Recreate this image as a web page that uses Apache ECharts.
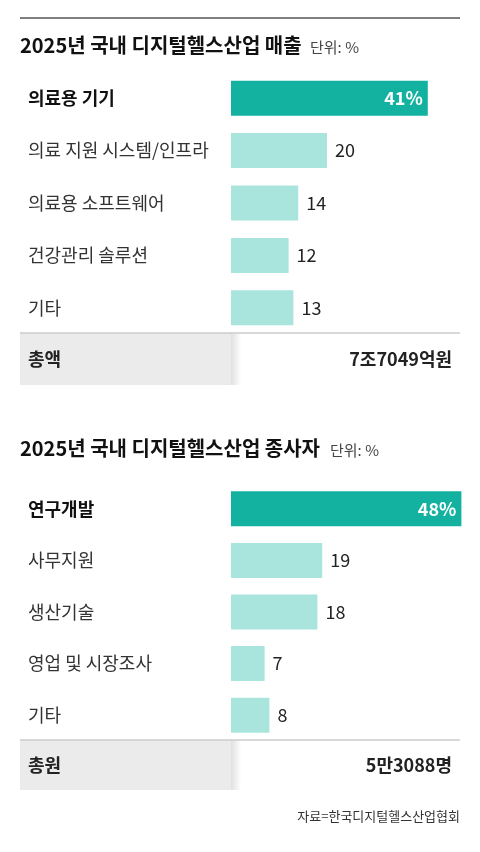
<!DOCTYPE html>
<html><head><meta charset="utf-8">
<script src="https://cdn.jsdelivr.net/npm/echarts@6/dist/echarts.min.js"></script>
<style>html,body{margin:0;background:#fff}#c{width:480px;height:852px}</style></head>
<body><div id="c"></div>
<script>
const cats1 = ['의료용 기기','의료 지원 시스템/인프라','의료용 소프트웨어','건강관리 솔루션','기타'];
const vals1 = [41,20,14,12,13];
const cats2 = ['연구개발','사무지원','생산기술','영업 및 시장조사','기타'];
const vals2 = [48,19,18,7,8];
const titles = ['2025년 국내 디지털헬스산업 매출','2025년 국내 디지털헬스산업 종사자'];
const totals = [['총액','7조7049억원'],['총원','5만3088명']];
const source = '자료=한국디지털헬스산업협회';
const F = '"Noto Sans CJK KR", "Noto Sans", sans-serif';
const DARK='#13b2a0', LIGHT='#a9e5dc';
const chart = echarts.init(document.getElementById('c'));
function series(vals, i){
  return {type:'bar', xAxisIndex:i, yAxisIndex:i, barWidth:35, animation:false,
    data: vals.map((v,k)=>({value:v,
      itemStyle:{color:k===0?DARK:LIGHT},
      label:k===0?{show:true,position:'insideRight',formatter:v+'%',color:'#fff',fontWeight:'bold',fontSize:18,fontFamily:F,distance:5}
               :{show:true,position:'right',color:'#222',fontSize:18,fontFamily:F,distance:8}}))};
}
function yAx(cats,i){
  return {type:'category',gridIndex:i,data:cats,inverse:true,axisLine:{show:false},axisTick:{show:false},
    axisLabel:{align:'left',margin:203,fontSize:18,fontFamily:F,color:'#333',
      formatter:(v)=>v===cats[0]?'{b|'+v+'}':v,rich:{b:{fontWeight:'bold',fontSize:18,fontFamily:F,color:'#111'}}}};
}
function xAx(i){return {type:'value',gridIndex:i,min:0,max:50,show:false};}
const g=[];
function line(y,color,w){g.push({type:'line',shape:{x1:20,y1:y,x2:460,y2:y},style:{stroke:color,lineWidth:w}});}
function txt(x,y,t,opts){g.push({type:'text',x:x,y:y,style:Object.assign({text:t,fontFamily:F,fill:'#222',verticalAlign:'middle'},opts)});}
line(18,'#555',1.5);
txt(20,45,titles[0],{fontSize:20,fontWeight:'bold',fill:'#111'});
txt(310,47,'단위: %',{fontSize:15,fill:'#444'});
[[333,385],[740,790]].forEach((r,i)=>{
  g.push({type:'rect',shape:{x:20,y:r[0],width:211,height:r[1]-r[0]},style:{fill:'#ebebeb'}});
  g.push({type:'rect',shape:{x:231,y:r[0],width:10,height:r[1]-r[0]},style:{fill:new echarts.graphic.LinearGradient(0,0,1,0,[{offset:0,color:'rgba(0,0,0,0.12)'},{offset:1,color:'rgba(0,0,0,0)'}])}});
  line(r[0],'#ccc',1.5);
  txt(28,(r[0]+r[1])/2,totals[i][0],{fontSize:18,fontWeight:'bold',fill:'#222'});
  txt(452,(r[0]+r[1])/2,totals[i][1],{fontSize:18,fontWeight:'bold',fill:'#222',align:'right'});
});
txt(20,448,titles[1],{fontSize:20,fontWeight:'bold',fill:'#111'});
txt(330,450,'단위: %',{fontSize:15,fill:'#444'});
txt(460,816,source,{fontSize:13,fill:'#333',align:'right'});
chart.setOption({
  animation:false,
  grid:[{left:231,width:240,top:72,height:262},{left:231,width:240,top:483,height:258}],
  xAxis:[xAx(0),xAx(1)], yAxis:[yAx(cats1,0),yAx(cats2,1)],
  series:[series(vals1,0),series(vals2,1)],
  graphic:g
});
</script></body></html>
